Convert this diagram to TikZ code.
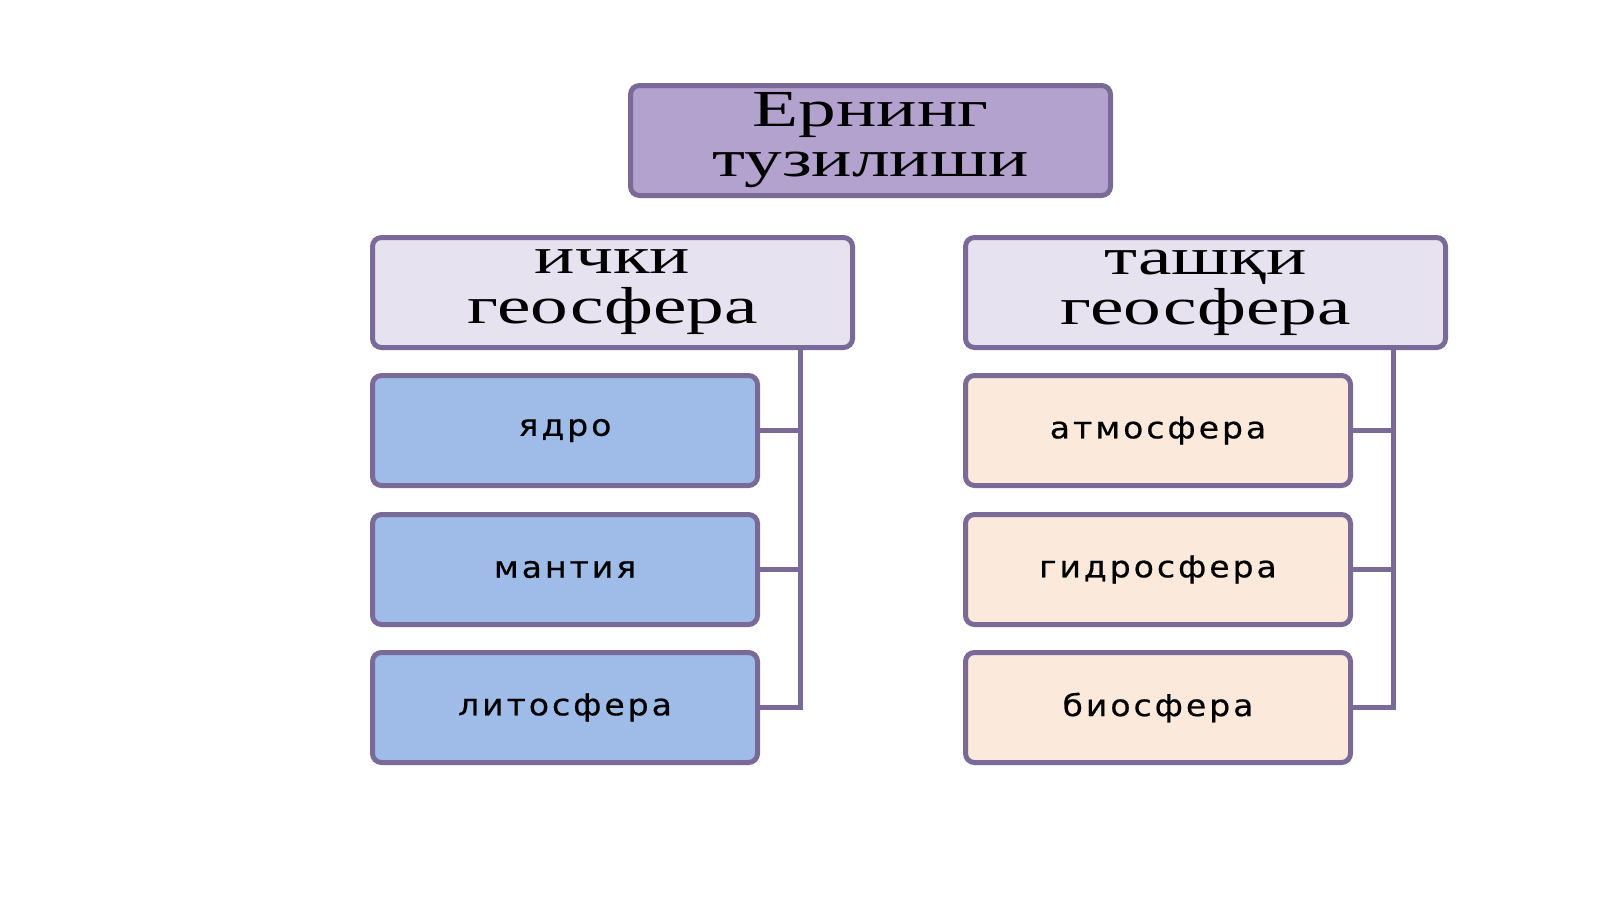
\documentclass[tikz,border=0pt]{standalone}
\usepackage{fontspec}
\setmainfont{Liberation Serif}
\newfontfamily\headfont[FakeStretch=1.45]{Liberation Serif}
\newfontfamily\itemfont[LetterSpace=10,FakeStretch=1.1,FakeBold=0.6]{DejaVu Sans}
\begin{document}
\begin{tikzpicture}[x=1pt,y=-1pt,
 box/.style={draw=frame,line width=5pt,rounded corners=9pt,anchor=north west,inner sep=0pt},
 head/.style={box,fill=headfill,align=center,font=\headfont\fontsize{52}{50}\selectfont},
 inner/.style={box,fill=bluefill,font=\itemfont\fontsize{30}{30}\selectfont},
 outer/.style={box,fill=peach,font=\itemfont\fontsize{30}{30}\selectfont},
 conn/.style={draw=frame,line width=5pt}]
\definecolor{frame}{HTML}{7A6A98}
\definecolor{topfill}{HTML}{B3A2CE}
\definecolor{headfill}{HTML}{E7E2EF}
\definecolor{bluefill}{HTML}{9EBCE7}
\definecolor{peach}{HTML}{FBEADC}
\useasboundingbox (0,0) rectangle (1600,899);
\node[head,fill=topfill,minimum width=480pt,minimum height=110pt] (top) at (628,83) {Ернинг\\тузилиши};
\node[head,minimum width=480pt,minimum height=110pt] (ich) at (370,235) {ички\\геосфера};
\node[head,minimum width=480pt,minimum height=110pt] (tash) at (963,235) {ташқи\\геосфера};
\node[inner,minimum width=385pt,minimum height=110pt] (a1) at (370,373) {ядро};
\node[inner,minimum width=385pt,minimum height=110pt] (a2) at (370,512) {мантия};
\node[inner,minimum width=385pt,minimum height=110pt] (a3) at (370,650) {литосфера};
\node[outer,minimum width=385pt,minimum height=110pt] (b1) at (963,373) {атмосфера};
\node[outer,minimum width=385pt,minimum height=110pt] (b2) at (963,512) {гидросфера};
\node[outer,minimum width=385pt,minimum height=110pt] (b3) at (963,650) {биосфера};
\coordinate (lv) at (800,0); \coordinate (rv) at (1393,0);
\draw[conn] (ich.south -| lv) -- (a3.east -| lv) -- (a3.east);
\draw[conn] (a1.east) -- (a1.east -| lv);
\draw[conn] (a2.east) -- (a2.east -| lv);
\draw[conn] (tash.south -| rv) -- (b3.east -| rv) -- (b3.east);
\draw[conn] (b1.east) -- (b1.east -| rv);
\draw[conn] (b2.east) -- (b2.east -| rv);
\end{tikzpicture}
\end{document}
